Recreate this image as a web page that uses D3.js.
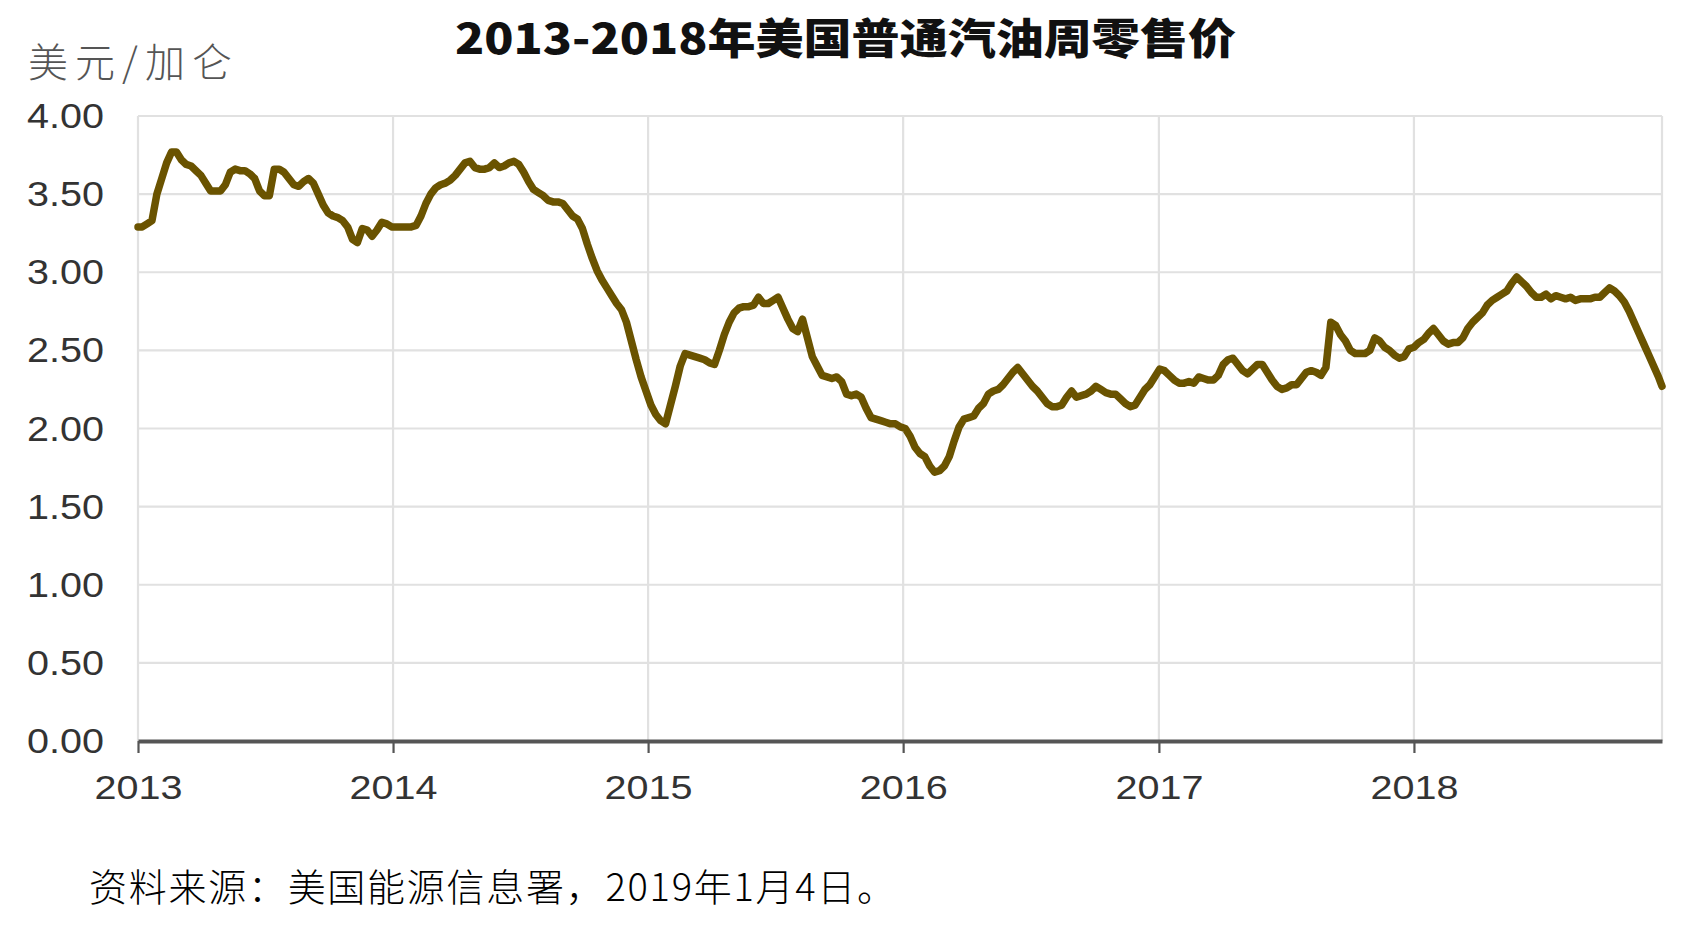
<!DOCTYPE html>
<html><head><meta charset="utf-8">
<script src="https://cdn.jsdelivr.net/npm/d3@7"></script>
<style>body{margin:0;background:#fff}svg{display:block}</style>
</head><body>
<script>
const titleText = "2013-2018年美国普通汽油周零售价";
const unitText = "美元/加仑";
const sourceText = "资料来源：美国能源信息署，2019年1月4日。";
const yTicks = [0, 0.5, 1, 1.5, 2, 2.5, 3, 3.5, 4];
const yTickLabels = ["0.00","0.50","1.00","1.50","2.00","2.50","3.00","3.50","4.00"];
const xTickYears = [2013, 2014, 2015, 2016, 2017, 2018];
const xTickLabels = ["2013","2014","2015","2016","2017","2018"];

const dates2013 = ["2013-01-01","2013-01-07","2013-01-14","2013-01-21","2013-01-28","2013-02-04","2013-02-11","2013-02-18","2013-02-25","2013-03-04","2013-03-11","2013-03-18","2013-03-25","2013-04-01","2013-04-08","2013-04-15","2013-04-22","2013-04-29","2013-05-06","2013-05-13","2013-05-20","2013-05-27","2013-06-03","2013-06-10","2013-06-17","2013-06-24","2013-07-01","2013-07-08","2013-07-15","2013-07-22","2013-07-29","2013-08-05","2013-08-12","2013-08-19","2013-08-26","2013-09-02","2013-09-09","2013-09-16","2013-09-23","2013-09-30","2013-10-07","2013-10-14","2013-10-21","2013-10-28","2013-11-04","2013-11-11","2013-11-18","2013-11-25","2013-12-02","2013-12-09","2013-12-16","2013-12-23","2013-12-30"];
const prices2013 = [3.29,3.29,3.31,3.33,3.50,3.60,3.70,3.77,3.77,3.72,3.69,3.68,3.65,3.62,3.57,3.52,3.52,3.52,3.56,3.64,3.66,3.65,3.65,3.63,3.60,3.52,3.49,3.49,3.66,3.66,3.64,3.60,3.56,3.55,3.58,3.60,3.57,3.50,3.43,3.38,3.36,3.35,3.33,3.29,3.21,3.19,3.28,3.27,3.23,3.27,3.32,3.31,3.29];

const dates2014 = ["2014-01-06","2014-01-13","2014-01-20","2014-01-27","2014-02-03","2014-02-10","2014-02-17","2014-02-24","2014-03-03","2014-03-10","2014-03-17","2014-03-24","2014-03-31","2014-04-07","2014-04-14","2014-04-21","2014-04-28","2014-05-05","2014-05-12","2014-05-19","2014-05-26","2014-06-02","2014-06-09","2014-06-16","2014-06-23","2014-06-30","2014-07-07","2014-07-14","2014-07-21","2014-07-28","2014-08-04","2014-08-11","2014-08-18","2014-08-25","2014-09-01","2014-09-08","2014-09-15","2014-09-22","2014-09-29","2014-10-06","2014-10-13","2014-10-20","2014-10-27","2014-11-03","2014-11-10","2014-11-17","2014-11-24","2014-12-01","2014-12-08","2014-12-15","2014-12-22","2014-12-29"];
const prices2014 = [3.29,3.29,3.29,3.29,3.30,3.36,3.44,3.50,3.54,3.56,3.57,3.59,3.62,3.66,3.70,3.71,3.67,3.66,3.66,3.67,3.70,3.67,3.68,3.70,3.71,3.69,3.64,3.58,3.53,3.51,3.49,3.46,3.45,3.45,3.44,3.40,3.36,3.34,3.28,3.18,3.09,3.01,2.95,2.90,2.85,2.80,2.76,2.68,2.56,2.44,2.33,2.24];

const dates2015 = ["2015-01-05","2015-01-12","2015-01-19","2015-01-26","2015-02-02","2015-02-09","2015-02-16","2015-02-23","2015-03-02","2015-03-09","2015-03-16","2015-03-23","2015-03-30","2015-04-06","2015-04-13","2015-04-20","2015-04-27","2015-05-04","2015-05-11","2015-05-18","2015-05-25","2015-06-01","2015-06-08","2015-06-15","2015-06-22","2015-06-29","2015-07-06","2015-07-13","2015-07-20","2015-07-27","2015-08-03","2015-08-10","2015-08-17","2015-08-24","2015-08-31","2015-09-07","2015-09-14","2015-09-21","2015-09-28","2015-10-05","2015-10-12","2015-10-19","2015-10-26","2015-11-02","2015-11-09","2015-11-16","2015-11-23","2015-11-30","2015-12-07","2015-12-14","2015-12-21","2015-12-28"];
const prices2015 = [2.15,2.09,2.05,2.03,2.15,2.27,2.40,2.48,2.47,2.46,2.45,2.44,2.42,2.41,2.50,2.60,2.68,2.74,2.77,2.78,2.78,2.79,2.84,2.80,2.80,2.82,2.84,2.77,2.70,2.64,2.62,2.70,2.58,2.46,2.40,2.34,2.33,2.32,2.33,2.30,2.22,2.21,2.22,2.20,2.13,2.07,2.06,2.05,2.04,2.03,2.03,2.01];

const dates2016 = ["2016-01-04","2016-01-11","2016-01-18","2016-01-25","2016-02-01","2016-02-08","2016-02-15","2016-02-22","2016-02-29","2016-03-07","2016-03-14","2016-03-21","2016-03-28","2016-04-04","2016-04-11","2016-04-18","2016-04-25","2016-05-02","2016-05-09","2016-05-16","2016-05-23","2016-05-30","2016-06-06","2016-06-13","2016-06-20","2016-06-27","2016-07-04","2016-07-11","2016-07-18","2016-07-25","2016-08-01","2016-08-08","2016-08-15","2016-08-22","2016-08-29","2016-09-05","2016-09-12","2016-09-19","2016-09-26","2016-10-03","2016-10-10","2016-10-17","2016-10-24","2016-10-31","2016-11-07","2016-11-14","2016-11-21","2016-11-28","2016-12-05","2016-12-12","2016-12-19","2016-12-26"];
const prices2016 = [2.00,1.95,1.88,1.84,1.82,1.76,1.72,1.73,1.76,1.82,1.92,2.01,2.06,2.07,2.08,2.13,2.16,2.22,2.24,2.25,2.28,2.32,2.36,2.39,2.35,2.31,2.27,2.24,2.20,2.16,2.14,2.14,2.15,2.20,2.24,2.20,2.21,2.22,2.24,2.27,2.25,2.23,2.22,2.22,2.19,2.16,2.14,2.15,2.20,2.25,2.28,2.33];

const dates2017 = ["2017-01-02","2017-01-09","2017-01-16","2017-01-23","2017-01-30","2017-02-06","2017-02-13","2017-02-20","2017-02-27","2017-03-06","2017-03-13","2017-03-20","2017-03-27","2017-04-03","2017-04-10","2017-04-17","2017-04-24","2017-05-01","2017-05-08","2017-05-15","2017-05-22","2017-05-29","2017-06-05","2017-06-12","2017-06-19","2017-06-26","2017-07-03","2017-07-10","2017-07-17","2017-07-24","2017-07-31","2017-08-07","2017-08-14","2017-08-21","2017-08-28","2017-09-04","2017-09-11","2017-09-18","2017-09-25","2017-10-02","2017-10-09","2017-10-16","2017-10-23","2017-10-30","2017-11-06","2017-11-13","2017-11-20","2017-11-27","2017-12-04","2017-12-11","2017-12-18","2017-12-25"];
const prices2017 = [2.38,2.37,2.34,2.31,2.29,2.29,2.30,2.29,2.33,2.32,2.31,2.31,2.34,2.41,2.44,2.45,2.41,2.37,2.35,2.38,2.41,2.41,2.36,2.31,2.27,2.25,2.26,2.28,2.28,2.32,2.36,2.37,2.36,2.34,2.39,2.68,2.66,2.60,2.56,2.50,2.48,2.48,2.48,2.50,2.58,2.56,2.52,2.50,2.47,2.45,2.46,2.51];

const dates2018 = ["2018-01-01","2018-01-08","2018-01-15","2018-01-22","2018-01-29","2018-02-05","2018-02-12","2018-02-19","2018-02-26","2018-03-05","2018-03-12","2018-03-19","2018-03-26","2018-04-02","2018-04-09","2018-04-16","2018-04-23","2018-04-30","2018-05-07","2018-05-14","2018-05-21","2018-05-28","2018-06-04","2018-06-11","2018-06-18","2018-06-25","2018-07-02","2018-07-09","2018-07-16","2018-07-23","2018-07-30","2018-08-06","2018-08-13","2018-08-20","2018-08-27","2018-09-03","2018-09-10","2018-09-17","2018-09-24","2018-10-01","2018-10-08","2018-10-15","2018-10-22","2018-10-29","2018-11-05","2018-11-12","2018-11-19","2018-11-26","2018-12-03","2018-12-10","2018-12-17","2018-12-22"];
const prices2018 = [2.52,2.55,2.57,2.61,2.64,2.60,2.56,2.54,2.55,2.55,2.58,2.64,2.68,2.71,2.74,2.79,2.82,2.84,2.86,2.88,2.93,2.97,2.94,2.91,2.87,2.84,2.84,2.86,2.83,2.85,2.84,2.83,2.84,2.82,2.83,2.83,2.83,2.84,2.84,2.87,2.90,2.88,2.85,2.81,2.75,2.68,2.61,2.54,2.47,2.40,2.33,2.27];

const dateStrings = [].concat(dates2013, dates2014, dates2015, dates2016, dates2017, dates2018);
const prices = [].concat(prices2013, prices2014, prices2015, prices2016, prices2017, prices2018);

const W = 1694, H = 935;
const M = {left: 138, right: 1662, top: 116, bottom: 741};
const parse = d3.timeParse("%Y-%m-%d");
const data = dateStrings.map((d, i) => ({date: parse(d), value: prices[i]}));

const x = d3.scaleTime().domain([new Date(2013,0,1), new Date(2018,11,22)]).range([M.left, M.right]);
const y = d3.scaleLinear().domain([0, 4]).range([M.bottom, M.top]);

const svg = d3.select("body").append("svg").attr("width", W).attr("height", H);
svg.append("rect").attr("width", W).attr("height", H).attr("fill", "#fff");

// horizontal gridlines
svg.append("g").selectAll("line").data(yTicks.filter(v => v > 0)).join("line")
  .attr("x1", M.left).attr("x2", M.right)
  .attr("y1", d => y(d)).attr("y2", d => y(d))
  .attr("stroke", "#e1e1e1").attr("stroke-width", 2.2);

// vertical gridlines
const yearDates = xTickYears.map(yr => new Date(yr, 0, 1));
svg.append("g").selectAll("line").data(yearDates.concat([x.domain()[1]])).join("line")
  .attr("x1", d => x(d)).attr("x2", d => x(d))
  .attr("y1", M.top).attr("y2", M.bottom)
  .attr("stroke", "#e1e1e1").attr("stroke-width", 2.2);

// y labels
svg.append("g").selectAll("text").data(yTicks).join("text")
  .attr("x", 104).attr("y", d => y(d) + 12)
  .attr("text-anchor", "end")
  .attr("font-family", "'Liberation Sans', Arial, sans-serif")
  .attr("font-size", 35)
  .attr("fill", "#333")
  .attr("textLength", 77).attr("lengthAdjust", "spacingAndGlyphs")
  .text((d, i) => yTickLabels[i]);

// x axis
const xAxis = d3.axisBottom(x).tickValues(yearDates).tickSize(12).tickSizeOuter(0).tickFormat((d, i) => xTickLabels[i]);
const gx = svg.append("g").attr("transform", `translate(0,${M.bottom})`).call(xAxis);
gx.select(".domain").attr("stroke", "#555").attr("stroke-width", 4);
gx.selectAll(".tick line").attr("stroke", "#555").attr("stroke-width", 2.2);
gx.selectAll(".tick text")
  .attr("y", 58).attr("dy", 0)
  .attr("font-family", "'Liberation Sans', Arial, sans-serif")
  .attr("font-size", 34).attr("fill", "#333")
  .attr("textLength", 88).attr("lengthAdjust", "spacingAndGlyphs");

// line
const line = d3.line().x(d => x(d.date)).y(d => y(d.value)).curve(d3.curveLinear);
svg.append("path").datum(data)
  .attr("d", line)
  .attr("fill", "none")
  .attr("stroke", "#6a5300")
  .attr("stroke-width", 7.5)
  .attr("stroke-linejoin", "round")
  .attr("stroke-linecap", "round");

// title
svg.append("text")
  .attr("x", 455).attr("y", 54)
  .attr("font-family", "'Noto Sans CJK SC', sans-serif")
  .attr("font-weight", 900)
  .attr("font-size", 42)
  .attr("fill", "#111")
  .attr("textLength", 781).attr("lengthAdjust", "spacingAndGlyphs")
  .text(titleText);

// unit
svg.append("text")
  .attr("x", 28).attr("y", 77)
  .attr("font-family", "'Noto Sans CJK SC', sans-serif")
  .attr("font-weight", 300)
  .attr("font-size", 40)
  .attr("fill", "#555")
  .attr("textLength", 204).attr("lengthAdjust", "spacing")
  .text(unitText);

// source
svg.append("text")
  .attr("x", 89).attr("y", 901)
  .attr("font-family", "'Noto Sans CJK SC', sans-serif")
  .attr("font-weight", 300)
  .attr("font-size", 38)
  .attr("fill", "#000")
  .attr("textLength", 806).attr("lengthAdjust", "spacing")
  .text(sourceText);
</script>
</body></html>
